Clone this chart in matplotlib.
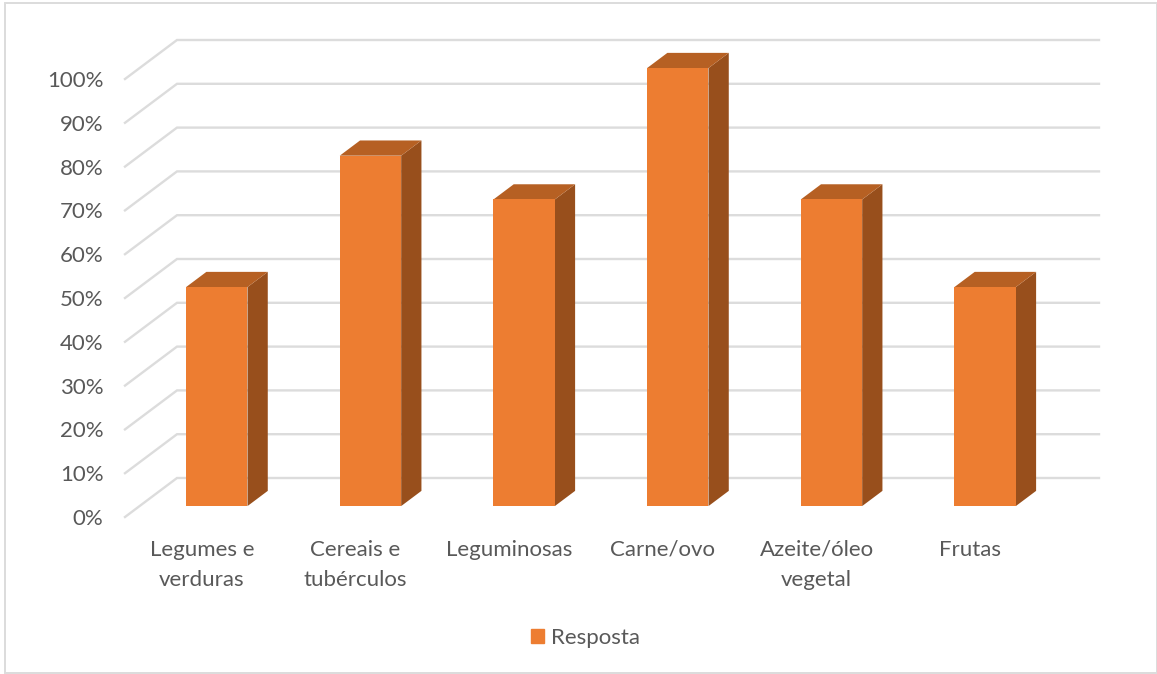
import matplotlib
matplotlib.use("Agg")
import matplotlib.pyplot as plt
from matplotlib.patches import Rectangle, Patch

categories = ["Legumes e\nverduras", "Cereais e\ntubérculos", "Leguminosas",
              "Carne/ovo", "Azeite/óleo\nvegetal", "Frutas"]
values = [50, 80, 70, 100, 70, 50]
yticks = list(range(0, 101, 10))
series_name = "Resposta"

W, H = 1157, 674
plt.rcParams['font.family'] = ['Lato', 'DejaVu Sans']
fig = plt.figure(figsize=(W / 100, H / 100), dpi=100, facecolor="white")

# Front plane of the pseudo-3D box, in pixels
L, R, B, T = 125, 1047, 517, 79
ax = fig.add_axes([L / W, 1 - B / H, (R - L) / W, (B - T) / H])
ax.set_xlim(0, 6)
ax.set_ylim(0, 100)
ax.patch.set_alpha(0)
for s in ax.spines.values():
    s.set_visible(False)

# Depth vector of the box, in data units
PX = (R - L) / 6
DX = 52 / PX
DY = 39 / ((B - T) / 100)

def proj(x, y, d):
    return x + d * DX, y + d * DY

GRID = "#dcdcdc"
for t in yticks:
    p0 = proj(0, t, 0)
    p1 = proj(0, t, 1)
    p2 = proj(6, t, 1)
    ax.plot([p0[0], p1[0], p2[0]], [p0[1], p1[1], p2[1]], color=GRID, lw=1.7,
            clip_on=False, zorder=1, solid_joinstyle="miter")

# Bars
half = 30.7 / PX
shift = 0.4 / PX
d0, d1 = 0.28, 0.67
FRONT, SIDE, TOP = "#ed7d31", "#984f1c", "#b66023"
for i, v in enumerate(values):
    xc = i + 0.5 + shift
    xl, xr = xc - half, xc + half
    def quad(pts, c, z):
        ax.fill([p[0] for p in pts], [p[1] for p in pts], color=c, lw=0,
                clip_on=False, zorder=z)
    quad([proj(xr, 0, d0), proj(xr, 0, d1), proj(xr, v, d1), proj(xr, v, d0)], SIDE, 3)
    quad([proj(xl, v, d0), proj(xr, v, d0), proj(xr, v, d1), proj(xl, v, d1)], TOP, 3)
    quad([proj(xl, 0, d0), proj(xr, 0, d0), proj(xr, v, d0), proj(xl, v, d0)], FRONT, 4)

TXT = "#595959"
ax.set_yticks(yticks, [f"{t}%" for t in yticks])
ax.set_xticks([i + 0.5 for i in range(6)], categories)
ax.tick_params(axis="both", length=0, labelcolor=TXT, labelsize=16)
ax.tick_params(axis="y", pad=15.5)
ax.tick_params(axis="x", pad=16.5)
for lab in ax.get_xticklabels():
    lab.set_linespacing(1.63)

fig.legend(handles=[Patch(color=FRONT, label=series_name)], loc="center",
           bbox_to_anchor=(585.5 / W, 1 - 638 / H), frameon=False, fontsize=16,
           labelcolor=TXT, handlelength=0.6, handleheight=0.6, handletextpad=0.32)

fig.add_artist(Rectangle((5.5 / W, 1 - 673 / H), (1156.5 - 5.5) / W, (673 - 3) / H,
                         transform=fig.transFigure, fill=False, ec="#dcdcdc", lw=1.4))
fig.savefig("out.png", dpi=100)
